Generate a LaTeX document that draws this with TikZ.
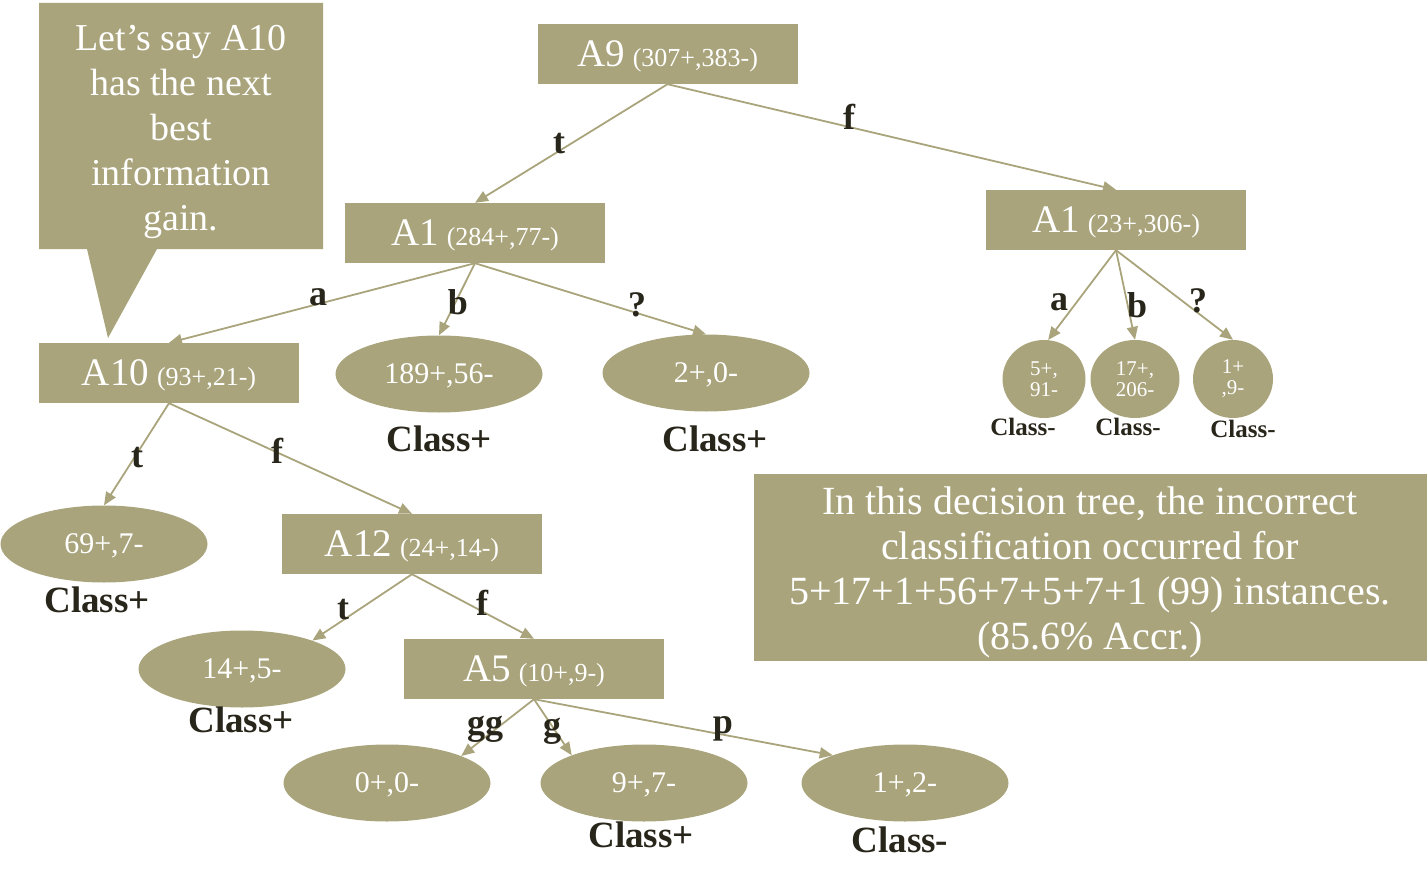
\documentclass[tikz,border=0pt]{standalone}
\usepackage{fontspec}
\setmainfont{Liberation Serif}
\usetikzlibrary{arrows.meta,shapes.geometric}
\definecolor{treeolive}{RGB}{169,164,123}
\definecolor{ink}{RGB}{40,37,26}
\newcommand{\attrtext}[2]{{\fontsize{39}{42}\selectfont #1}\hspace{8pt}{\fontsize{26}{28}\selectfont #2}}
\begin{document}
\begin{tikzpicture}[x=1pt,y=-1pt,
 attr/.style={fill=treeolive, text=white, minimum width=260pt, minimum height=60pt, inner sep=0pt, text depth=0pt},
 leaf/.style={ellipse, fill=treeolive, text=white, minimum width=207pt, minimum height=77pt, inner sep=0pt, text depth=0pt, font=\fontsize{30}{32}\selectfont},
 circ/.style={ellipse, fill=treeolive, text=white, inner sep=0pt, minimum height=78pt, align=center, font=\fontsize{21}{21}\selectfont},
 cls/.style={text=ink, font=\bfseries\fontsize{37}{38}\selectfont, inner sep=0pt},
 clssmall/.style={text=ink, font=\bfseries\fontsize{25}{26}\selectfont, inner sep=0pt},
 lbl/.style={text=ink, font=\bfseries\fontsize{36}{38}\selectfont, inner sep=0pt},
 edge/.style={draw=treeolive, line width=1.8pt, -{Triangle[length=13pt,width=11pt]}},
]
\useasboundingbox (0,0) rectangle (1427,883);

% callout
\fill[treeolive] (39,3) -- (323,3) -- (323,249) -- (157,249) -- (108,338) -- (87,249) -- (39,249) -- cycle;
\node[text=white, align=center, inner sep=0pt, font=\fontsize{38}{45}\selectfont] (callout) at (181,131.5)
  {Let’s say A10\\has the next\\best\\information\\gain.};

% attribute boxes
\node[attr] (a9) at (667.5,54) {\attrtext{A9}{(307+,383-)}};
\node[attr] (a1l) at (475,233) {\attrtext{A1}{(284+,77-)}};
\node[attr] (a1r) at (1116,220) {\attrtext{A1}{(23+,306-)}};
\node[attr] (a10) at (169,373) {\attrtext{A10}{(93+,21-)}};
\node[attr] (a12) at (412,544) {\attrtext{A12}{(24+,14-)}};
\node[attr] (a5) at (534,669) {\attrtext{A5}{(10+,9-)}};

% leaves
\node[leaf] (e189) at (439,374) {189+,56-};
\node[leaf] (e20) at (706,373) {2+,0-};
\node[leaf] (e69) at (104,544) {69+,7-};
\node[leaf] (e14) at (242,669) {14+,5-};
\node[leaf] (e00) at (387,783) {0+,0-};
\node[leaf] (e97) at (644,783) {9+,7-};
\node[leaf] (e12) at (905,783) {1+,2-};

\node[circ, minimum width=83pt] (c5) at (1044,379) {5+,\\91-};
\node[circ, minimum width=89pt] (c17) at (1135,379) {17+,\\206-};
\node[circ, minimum width=80pt] (c1) at (1233,379) {1+\\,9-};

% note box
\node[fill=treeolive, minimum width=673pt, minimum height=187pt, inner sep=0pt] (note) at (1090.5,567.5) {};
\node[text=white, inner sep=0pt, align=center, font=\fontsize{40}{45}\selectfont] (notetext) at (1090,572)
  {In this decision tree, the incorrect\\classification occurred for\\5+17+1+56+7+5+7+1 (99) instances.\\(85.6\% Accr.)};

% connectors
\draw[edge] (a9.south) -- (a1l.north);
\draw[edge] (a9.south) -- (a1r.north);
\draw[edge] (a1l.south) -- (a10.north);
\draw[edge] (a1l.south) -- (e189.north);
\draw[edge] (a1l.south) -- (e20.north);
\draw[edge] (a1r.south) -- (c5.84);
\draw[edge] (a1r.south) -- (c17.north);
\draw[edge] (a1r.south) -- (c1.north);
\draw[edge] (a10.south) -- (e69.north);
\draw[edge] (a10.south) -- (a12.north);
\draw[edge] (a12.south) -- (e14.22);
\draw[edge] (a12.south) -- (a5.north);
\draw[edge] (a5.south) -- (e00.20);
\draw[edge] (a5.south) -- (e97.159);
\draw[edge] (a5.south) -- (e12.159);

% edge labels
\node[lbl] (l1) at (559,144) {t};
\node[lbl] (l2) at (849,117) {f};
\node[lbl] (l3) at (318,297) {a};
\node[lbl] (l4) at (458,302) {b};
\node[lbl] (l5) at (637,305) {?};
\node[lbl] (l6) at (1059,302) {a};
\node[lbl] (l7) at (1137,305) {b};
\node[lbl] (l8) at (1198,301) {?};
\node[lbl] (l9) at (137,458) {t};
\node[lbl] (l10) at (277,451) {f};
\node[lbl] (l11) at (343,610) {t};
\node[lbl] (l12) at (482,603) {f};
\node[lbl] (l13) at (485,729) {gg};
\node[lbl] (l14) at (552,731) {g};
\node[lbl] (l15) at (723,729) {p};

% class labels
\node[cls] (k1) at (439,439) {Class+};
\node[cls] (k2) at (715,439) {Class+};
\node[cls] (k3) at (97,600) {Class+};
\node[cls] (k4) at (241,720) {Class+};
\node[cls] (k5) at (641,835) {Class+};
\node[cls] (k6) at (900,840) {Class-};
\node[clssmall] (k7) at (1023,427) {Class-};
\node[clssmall] (k8) at (1128,427) {Class-};
\node[clssmall] (k9) at (1243,429) {Class-};
\end{tikzpicture}
\end{document}
